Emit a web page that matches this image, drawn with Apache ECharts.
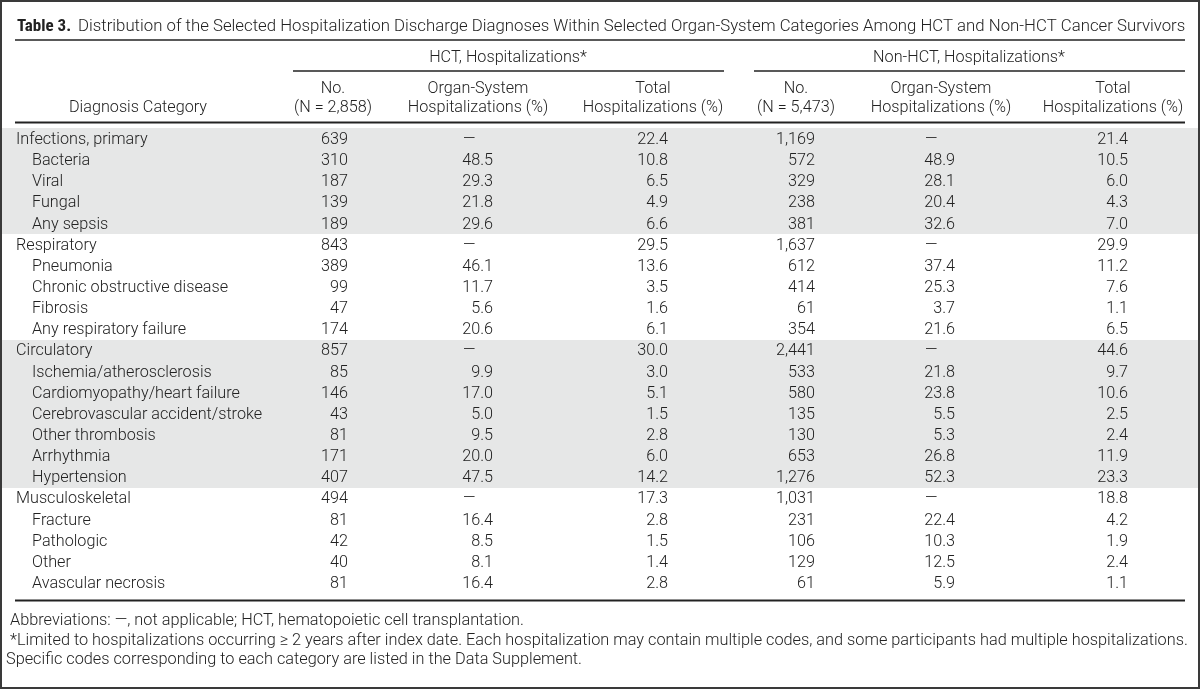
<!DOCTYPE html>
<html>
<head>
<meta charset="utf-8">
<script src="https://cdn.jsdelivr.net/npm/echarts@6/dist/echarts.min.js"></script>
<style>html,body{margin:0;padding:0;background:#fff}#c{width:1200px;height:689px}</style>
</head>
<body>
<div id="c"></div>
<script>
// ---------- DATA ----------
const categories = [
  'Infections, primary','Bacteria','Viral','Fungal','Any sepsis',
  'Respiratory','Pneumonia','Chronic obstructive disease','Fibrosis','Any respiratory failure',
  'Circulatory','Ischemia/atherosclerosis','Cardiomyopathy/heart failure','Cerebrovascular accident/stroke','Other thrombosis','Arrhythmia','Hypertension',
  'Musculoskeletal','Fracture','Pathologic','Other','Avascular necrosis'
];
const isGroupHeader = [1,0,0,0,0, 1,0,0,0,0, 1,0,0,0,0,0,0, 1,0,0,0,0];
const hctNo      = [639,310,187,139,189, 843,389,99,47,174, 857,85,146,43,81,171,407, 494,81,42,40,81];
const hctOrgan   = [null,48.5,29.3,21.8,29.6, null,46.1,11.7,5.6,20.6, null,9.9,17.0,5.0,9.5,20.0,47.5, null,16.4,8.5,8.1,16.4];
const hctTotal   = [22.4,10.8,6.5,4.9,6.6, 29.5,13.6,3.5,1.6,6.1, 30.0,3.0,5.1,1.5,2.8,6.0,14.2, 17.3,2.8,1.5,1.4,2.8];
const nonNo      = [1169,572,329,238,381, 1637,612,414,61,354, 2441,533,580,135,130,653,1276, 1031,231,106,129,61];
const nonOrgan   = [null,48.9,28.1,20.4,32.6, null,37.4,25.3,3.7,21.6, null,21.8,23.8,5.5,5.3,26.8,52.3, null,22.4,10.3,12.5,5.9];
const nonTotal   = [21.4,10.5,6.0,4.3,7.0, 29.9,11.2,7.6,1.1,6.5, 44.6,9.7,10.6,2.5,2.4,11.9,23.3, 18.8,4.2,1.9,2.4,1.1];
const shadedGroups = [[0,4],[10,16]];

const titleBold = 'Table 3.';
const titleText = 'Distribution of the Selected Hospitalization Discharge Diagnoses Within Selected Organ-System Categories Among HCT and Non-HCT Cancer Survivors';
const groupHeaders = ['HCT, Hospitalizations*','Non-HCT, Hospitalizations*'];
const colHeaders = [
  ['','Diagnosis Category'],
  ['No.','(N = 2,858)'],
  ['Organ-System','Hospitalizations (%)'],
  ['Total','Hospitalizations (%)'],
  ['No.','(N = 5,473)'],
  ['Organ-System','Hospitalizations (%)'],
  ['Total','Hospitalizations (%)']
];
const footnotes = [
  'Abbreviations: \u2014, not applicable; HCT, hematopoietic cell transplantation.',
  '*Limited to hospitalizations occurring \u2265 2 years after index date. Each hospitalization may contain multiple codes, and some participants had multiple hospitalizations.',
  'Specific codes corresponding to each category are listed in the Data Supplement.'
];

// ---------- LAYOUT / STYLE ----------
const FONT = 'Roboto, "Liberation Sans", Arial, sans-serif';
const FW = 300;
const FS = 16.2;
const TXT = '#222';
const DY = 1; // small baseline nudge
const colRight = [0, 348, 493, 668, 815, 955, 1128];
const headerCenter = [138, 333, 478, 653, 796, 941, 1113];
const fmtCount = v => v.toLocaleString('en-US');
const fmtPct = v => v.toFixed(1);
const columns = [
  {vals: hctNo, fmt: fmtCount, right: colRight[1]},
  {vals: hctOrgan, fmt: fmtPct, right: colRight[2]},
  {vals: hctTotal, fmt: fmtPct, right: colRight[3]},
  {vals: nonNo, fmt: fmtCount, right: colRight[4]},
  {vals: nonOrgan, fmt: fmtPct, right: colRight[5]},
  {vals: nonTotal, fmt: fmtPct, right: colRight[6]}
];

function textStyle(extra){
  return Object.assign({fontFamily: FONT, fontWeight: FW, fontSize: FS, fill: TXT}, extra);
}

const chart = echarts.init(document.getElementById('c'), null, {renderer:'canvas'});

const series = [];
// shading
series.push({
  type:'custom', silent:true, z:1,
  data: shadedGroups,
  renderItem: function(params, api){
    const a = api.coord([0, api.value(0)]);
    const b = api.coord([0, api.value(1)]);
    const h = api.size([0,1])[1];
    const y0 = Math.round(a[1]-h/2), y1 = Math.round(b[1]+h/2);
    return {type:'rect', shape:{x:2, y:y0, width:1196, height:y1-y0}, style:{fill:'#e6e7e7'}};
  }
});
// category names
series.push({
  type:'custom', silent:true, z:3,
  data: categories.map((c,i)=>[i, isGroupHeader[i]]),
  renderItem: function(params, api){
    const i = api.value(0);
    const p = api.coord([0, i]);
    const indent = api.value(1) ? 16 : 32;
    return {type:'text', x: indent, y: p[1]+DY, style: textStyle({text: categories[i], align:'left', verticalAlign:'middle'})};
  }
});
// value columns
columns.forEach(col=>{
  series.push({
    type:'custom', silent:true, z:3,
    data: col.vals.map((v,i)=>[col.right, i]),
    renderItem: function(params, api){
      const i = api.value(1);
      const p = api.coord([api.value(0), i]);
      const v = col.vals[i];
      if (v === null) {
        return {type:'text', x: p[0]-30, y: p[1]+DY, style: textStyle({text:'\u2014', align:'left', verticalAlign:'middle'})};
      }
      return {type:'text', x: p[0], y: p[1]+DY, style: textStyle({text: col.fmt(v), align:'right', verticalAlign:'middle'})};
    }
  });
});

const graphic = [];
graphic.push({type:'rect', shape:{x:1, y:1, width:1198, height:687}, style:{fill:null, stroke:'#3a3a3a', lineWidth:2}, z:10});
graphic.push({type:'text', x:17, y:27, style:{text:titleBold, fontFamily:'"Liberation Sans Narrow", "Roboto Condensed", Arial, sans-serif', fontWeight:'bold', fontSize:17, fill:'#222', align:'left', verticalAlign:'middle'}});
graphic.push({type:'text', x:78, y:27, style: textStyle({text:titleText, fontSize:16.8, align:'left', verticalAlign:'middle'})});
function hline(x1,x2,y,w){ return {type:'line', shape:{x1,y1:y,x2,y2:y}, style:{stroke:'#222', lineWidth:w}, z:5}; }
graphic.push(hline(15,1185,40,1.5));
graphic.push(hline(293,724,71,1.5));
graphic.push(hline(754,1185,71,1.5));
graphic.push(hline(15,1185,122.5,2));
graphic.push(hline(15,1185,600.5,2));
graphic.push({type:'text', x:508, y:58, style: textStyle({text:groupHeaders[0], align:'center', verticalAlign:'middle'})});
graphic.push({type:'text', x:969, y:58, style: textStyle({text:groupHeaders[1], align:'center', verticalAlign:'middle'})});
colHeaders.forEach((h,j)=>{
  graphic.push({type:'text', x:headerCenter[j], y:89, style: textStyle({text:h[0], align:'center', verticalAlign:'middle'})});
  graphic.push({type:'text', x:headerCenter[j], y:108, style: textStyle({text:h[1], align:'center', verticalAlign:'middle'})});
});
graphic.push({type:'text', x:10, y:621, style: textStyle({text:footnotes[0], fontSize:16.3, align:'left', verticalAlign:'middle'})});
graphic.push({type:'text', x:10, y:641, style: textStyle({text:footnotes[1], fontSize:16.3, align:'left', verticalAlign:'middle'})});
graphic.push({type:'text', x:6, y:660, style: textStyle({text:footnotes[2], fontSize:16.3, align:'left', verticalAlign:'middle'})});

chart.setOption({
  animation:false,
  grid:{left:0, right:0, top:128.4, height:465.1},
  xAxis:{type:'value', min:0, max:1200, show:false},
  yAxis:{type:'category', data:categories, inverse:true, show:false},
  series: series,
  graphic: graphic
});
</script>
</body>
</html>
